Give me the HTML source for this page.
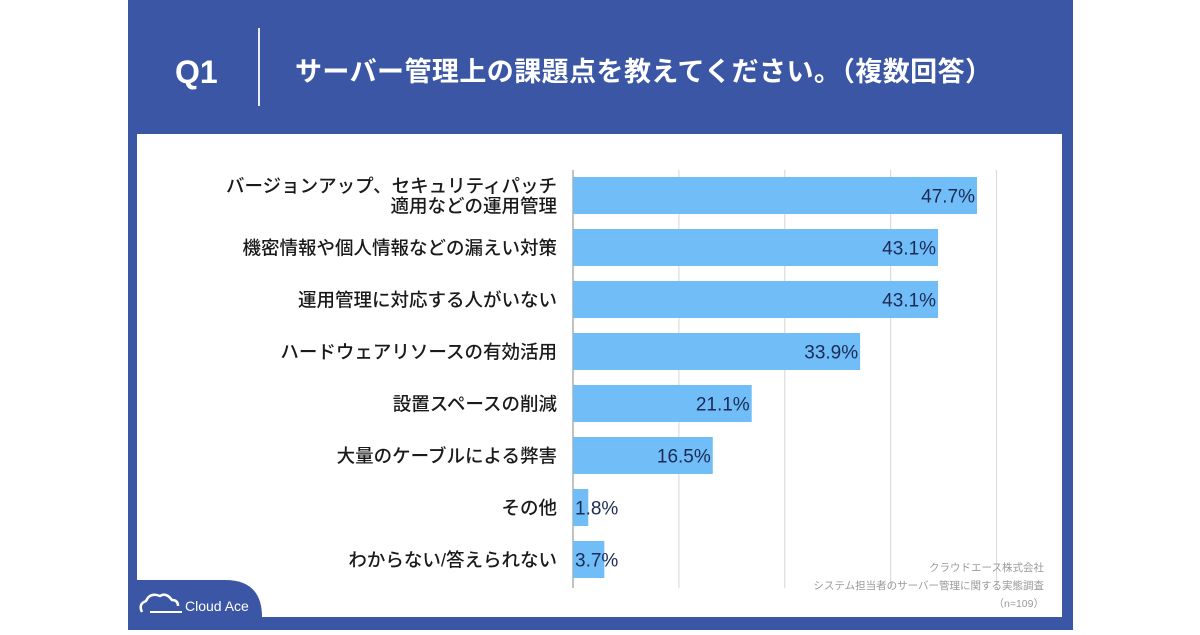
<!DOCTYPE html>
<html><head><meta charset="utf-8"><style>
body{margin:0;width:1200px;height:630px;background:#fff;overflow:hidden;font-family:"Liberation Sans","Noto Sans CJK JP",sans-serif}
</style></head><body>
<svg id="chart" width="1200" height="630" xmlns="http://www.w3.org/2000/svg">
<rect x="128" y="0" width="945" height="630" fill="#3b56a4"/>
<rect x="137" y="134" width="925" height="483" fill="#ffffff"/>
<text x="175" y="83" fill="#fff" font-size="32" font-weight="bold" font-family="Liberation Sans, sans-serif">Q1</text>
<line x1="259" y1="28" x2="259" y2="106" stroke="#e8ecf6" stroke-width="2"/>
<text x="295" y="81" fill="#fff" font-size="27" font-weight="bold" textLength="697" lengthAdjust="spacing" font-family="Liberation Sans, Noto Sans CJK JP, sans-serif">サーバー管理上の課題点を教えてください。（複数回答）</text>
<g id="grid"></g>
<g id="bars"></g>
<path d="M128 580 H225 Q262 580 262 617 H128 Z" fill="#3b56a4"/>
<g>
<path d="M142 612 Q138 604 146 601 Q150 592 160 596 Q166 592 172 600 Q178 600 178 606" fill="none" stroke="#fff" stroke-width="2.5"/>
<line x1="150" y1="612" x2="182" y2="612" stroke="#fff" stroke-width="2"/>
<text x="185" y="611" fill="#fff" font-size="14" font-family="Liberation Sans, sans-serif">Cloud Ace</text>
</g>
<g fill="#9a9a9a" font-size="10.5" text-anchor="end" font-family="Liberation Sans, Noto Sans CJK JP, sans-serif">
<text x="1044" y="571">クラウドエース株式会社</text>
<text x="1044" y="589">システム担当者のサーバー管理に関する実態調査</text>
<text x="1044" y="607">（n=109）</text>
</g>
</svg>
<script>
const categories=[["バージョンアップ、セキュリティパッチ","適用などの運用管理"],["機密情報や個人情報などの漏えい対策"],["運用管理に対応する人がいない"],["ハードウェアリソースの有効活用"],["設置スペースの削減"],["大量のケーブルによる弊害"],["その他"],["わからない/答えられない"]];
const values=[47.7,43.1,43.1,33.9,21.1,16.5,1.8,3.7];
const gridTicks=[12.5,25,37.5,50];
const NS="http://www.w3.org/2000/svg";
const x0=573,pxPer=8.47,y0=195.5,step=52,bh=37;
const xs=v=>x0+v*pxPer;
const ys=i=>y0+i*step;
const grid=document.getElementById('grid'),bars=document.getElementById('bars');
function mk(tag,attrs,parent){const e=document.createElementNS(NS,tag);for(const k in attrs)e.setAttribute(k,attrs[k]);parent.appendChild(e);return e;}
gridTicks.forEach(t=>{
 const l=mk('line',{x1:xs(t),x2:xs(t),y1:170,y2:588,stroke:'#dcdcdc','stroke-width':1.2},grid);
 
 
});
const ax=mk('line',{x1:x0,x2:x0,y1:170,y2:588,stroke:'#999','stroke-width':1.2},grid);


values.forEach((v,i)=>{
 const cy=ys(i);
 const r=mk('rect',{x:x0,y:cy-bh/2,width:xs(v)-x0,height:bh,fill:'#70bdf8'},bars);
 
 
 const small=v<10;
 const t=mk('text',{x:small?x0+2:xs(v)-2,y:cy+7,'text-anchor':small?'start':'end',fill:'#1c2b55','font-size':19,'font-family':'Liberation Sans, sans-serif'},bars);
 t.textContent=v.toFixed(1)+'%';
 
 
 const lines=categories[i];
 const lab=mk('text',{x:557,'text-anchor':'end',fill:'#1a1a1a','font-size':18.5,'font-weight':500,'font-family':'Liberation Sans, Noto Sans CJK JP, sans-serif'},bars);
 
 
 lines.forEach((s,j)=>{
  const ts=mk('tspan',{x:557,y:cy+7+(j-(lines.length-1)/2)*20},lab);
  ts.textContent=s;
 });
});
</script>
</body></html>
